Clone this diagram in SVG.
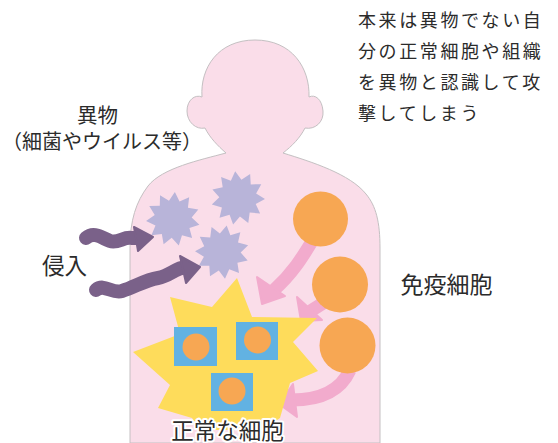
<svg xmlns="http://www.w3.org/2000/svg" width="558" height="443" viewBox="0 0 558 443">
  <style>
    .txt { font-family: "Noto Sans CJK JP", "Noto Sans", sans-serif; fill: #2b2b2b; }
    .body { fill: #fadde9; stroke: #c4c0c2; stroke-width: 1; }
    .germ { fill: #b8b4d9; }
    .invade { fill: none; stroke: #7a6189; stroke-width: 14; stroke-linecap: round; stroke-linejoin: round; }
    .invade-head { fill: #7a6189; stroke: #7a6189; stroke-width: 2; stroke-linejoin: round; }
    .attack { fill: none; stroke: #f2abcd; stroke-width: 13; stroke-linecap: butt; }
    .attack-head { fill: #f2abcd; stroke: #f2abcd; stroke-width: 2; stroke-linejoin: round; }
    .immune { fill: #f7a753; }
    .cell-box { fill: #62b2e2; }
    .nucleus { fill: #f7a753; }
    .burst { fill: #fedc5b; }
  </style>
  <defs>
    <!-- 11-point spiky germ -->
    <polygon id="spike" points="0,-27 5.3,-17.9 14.6,-22.72 14.1,-12.2 24.56,-11.22 18.5,-2.7 26.73,3.84 17,7.8 20.4,17.68 10.1,15.7 7.61,25.91 0,18.7 -7.61,25.91 -10.1,15.7 -20.4,17.68 -17,7.8 -26.73,3.84 -18.5,-2.7 -24.56,-11.22 -14.1,-12.2 -14.6,-22.72 -5.3,-17.9"/>
  </defs>

  <!-- human silhouette -->
  <g id="body">
    <path class="body" d="M226,153 C200,160 162,168 148,186 C136,202 130,220 130,248 L130,443 L380,443 L380,248 C380,222 376,206 366,194 C350,174 312,162 283,153 C292,146 300,138 305,128 C315,130 324,122 323,111 C322,99 315,94 309,97 C310,68 292,40 255,40 C218,40 200,68 202,97 C195,94 187,100 187,111 C187,122 196,130 205,128 C210,138 218,146 226,153 Z"/>
  </g>

  <!-- foreign bodies -->
  <g id="germs">
    <use href="#spike" class="germ" transform="translate(173,219) rotate(4)"/>
    <use href="#spike" class="germ" transform="translate(238,198) rotate(-6)"/>
    <use href="#spike" class="germ" transform="translate(222,252) rotate(10)"/>
  </g>

  <!-- connectors -->
  <g id="connectors">
    <!-- invasion arrows -->
    <path class="invade" d="M86,238 C94,231 102,238 110,241 C118,244 124,236 132,238 L140,238"/>
    <polygon class="invade-head" points="134,227 153,237 138,251"/>
    <path class="invade" d="M96,290 C104,283 112,294 122,291 C135,287 145,280 158,278 C170,276 175,268 186,267"/>
    <polygon class="invade-head" points="180,256 200,267 186,283"/>
    <!-- immune attack arrows -->
    <path class="attack" d="M314,238 C302,258 292,274 274,290"/>
    <polygon class="attack-head" points="257,277 262,304 285,296"/>
    <path class="attack" d="M328,300 L309,312"/>
    <polygon class="attack-head" points="297,297 301,321 322,320"/>
    <path class="attack" d="M350,370 C340,392 318,400 292,400"/>
    <polygon class="attack-head" points="293,384 279,404 297,417"/>
  </g>

  <!-- damaged normal cells -->
  <g id="normal-cells">
    <polygon class="burst" points="237,278 252,317 317,318 293,342 318,371 290,383 280,418 262,430 200,430 192,418 158,408 170,385 133,352 180,334 170,297 212,307"/>
    <rect class="cell-box" x="174" y="327" width="43" height="39"/>
    <circle class="nucleus" cx="196" cy="347" r="13.5"/>
    <rect class="cell-box" x="236" y="322" width="42" height="38"/>
    <circle class="nucleus" cx="257.5" cy="340" r="13.5"/>
    <rect class="cell-box" x="211" y="373" width="42" height="38"/>
    <circle class="nucleus" cx="232" cy="391" r="13.5"/>
  </g>

  <!-- immune cells -->
  <g id="immune-cells">
    <circle class="immune" cx="320.5" cy="219" r="27.5"/>
    <circle class="immune" cx="340" cy="284.5" r="28"/>
    <circle class="immune" cx="347.5" cy="345.5" r="28"/>
  </g>

  <!-- labels -->
  <g id="label-note">
    <text class="txt" font-size="18" letter-spacing="2.6">
      <tspan x="358" y="27">本来は異物でない自</tspan>
      <tspan x="358" y="58">分の正常細胞や組織</tspan>
      <tspan x="358" y="89">を異物と認識して攻</tspan>
      <tspan x="358" y="120">撃してしまう</tspan>
    </text>
  </g>
  <g id="label-foreign">
    <text class="txt" font-size="20.5" x="97.5" y="123" text-anchor="middle">異物</text>
    <text class="txt" font-size="20" x="102" y="148.5" text-anchor="middle">（細菌やウイルス等）</text>
  </g>
  <g id="label-invasion">
    <text class="txt" font-size="22.5" x="64.5" y="273.5" text-anchor="middle">侵入</text>
  </g>
  <g id="label-immune">
    <text class="txt" font-size="23" x="446.5" y="293" text-anchor="middle">免疫細胞</text>
  </g>
  <g id="label-normal">
    <text class="txt" font-size="22.5" x="227.5" y="439" text-anchor="middle" stroke="#ffffff" stroke-width="4" stroke-linejoin="round" paint-order="stroke">正常な細胞</text>
  </g>
</svg>
